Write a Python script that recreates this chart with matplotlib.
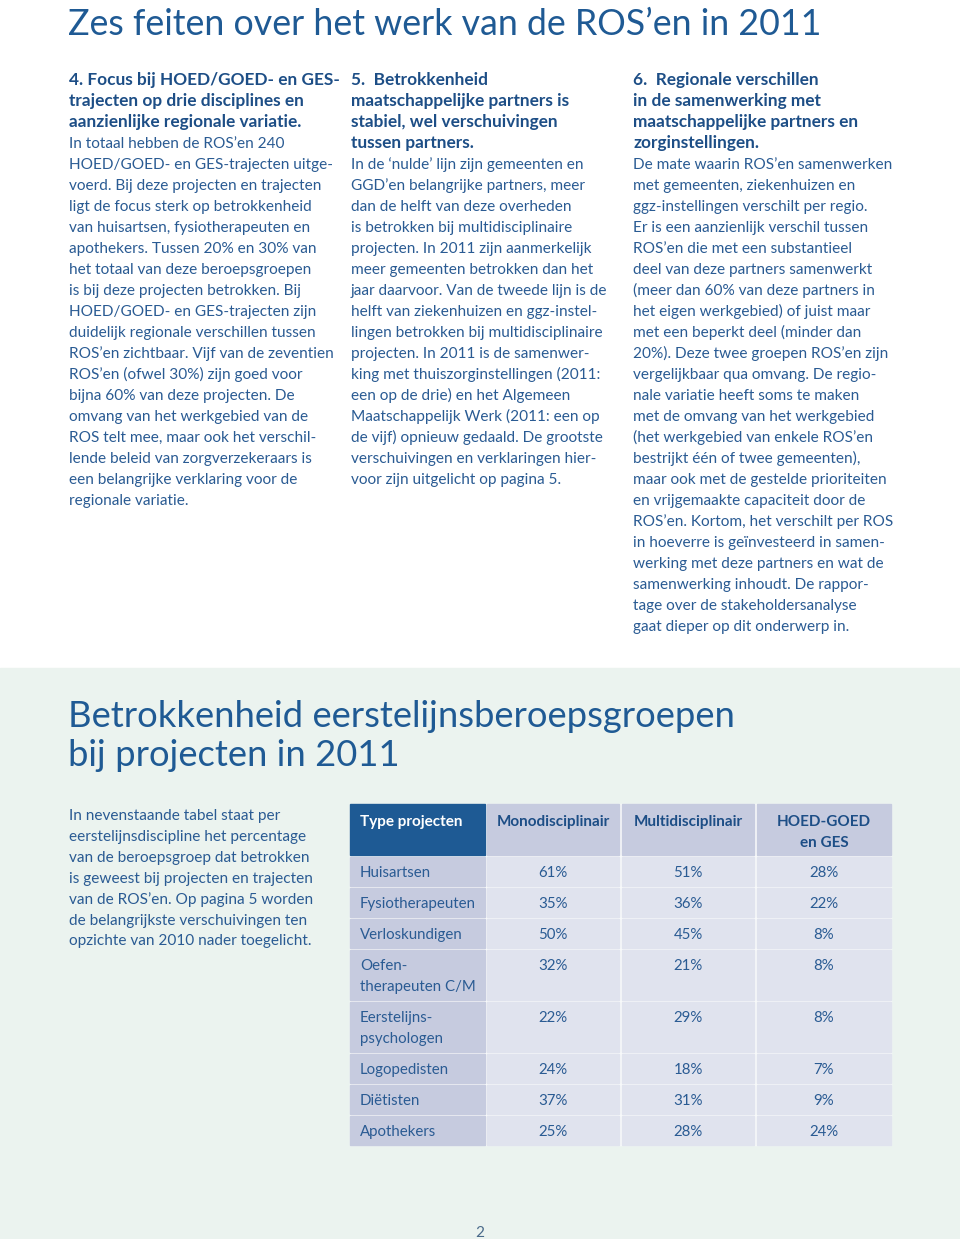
import matplotlib
matplotlib.use('Agg')
import matplotlib.pyplot as plt
from matplotlib.patches import Rectangle

plt.rcParams['font.family'] = ['Lato', 'DejaVu Sans']

page_title = "Zes feiten over het werk van de ROS’en in 2011"

col4_head = ["4. Focus bij HOED/GOED- en GES-",
             "trajecten op drie disciplines en",
             "aanzienlijke regionale variatie."]
col4_body = ["In totaal hebben de ROS’en 240",
             "HOED/GOED- en GES-trajecten uitge-",
             "voerd. Bij deze projecten en trajecten",
             "ligt de focus sterk op betrokkenheid",
             "van huisartsen, fysiotherapeuten en",
             "apothekers. Tussen 20% en 30% van",
             "het totaal van deze beroepsgroepen",
             "is bij deze projecten betrokken. Bij",
             "HOED/GOED- en GES-trajecten zijn",
             "duidelijk regionale verschillen tussen",
             "ROS’en zichtbaar. Vijf van de zeventien",
             "ROS’en (ofwel 30%) zijn goed voor",
             "bijna 60% van deze projecten. De",
             "omvang van het werkgebied van de",
             "ROS telt mee, maar ook het verschil-",
             "lende beleid van zorgverzekeraars is",
             "een belangrijke verklaring voor de",
             "regionale variatie."]

col5_head = ["5.  Betrokkenheid",
             "maatschappelijke partners is",
             "stabiel, wel verschuivingen",
             "tussen partners."]
col5_body = ["In de ‘nulde’ lijn zijn gemeenten en",
             "GGD’en belangrijke partners, meer",
             "dan de helft van deze overheden",
             "is betrokken bij multidisciplinaire",
             "projecten. In 2011 zijn aanmerkelijk",
             "meer gemeenten betrokken dan het",
             "jaar daarvoor. Van de tweede lijn is de",
             "helft van ziekenhuizen en ggz-instel-",
             "lingen betrokken bij multidisciplinaire",
             "projecten. In 2011 is de samenwer-",
             "king met thuiszorginstellingen (2011:",
             "een op de drie) en het Algemeen",
             "Maatschappelijk Werk (2011: een op",
             "de vijf) opnieuw gedaald. De grootste",
             "verschuivingen en verklaringen hier-",
             "voor zijn uitgelicht op pagina 5."]

col6_head = ["6.  Regionale verschillen",
             "in de samenwerking met",
             "maatschappelijke partners en",
             "zorginstellingen."]
col6_body = ["De mate waarin ROS’en samenwerken",
             "met gemeenten, ziekenhuizen en",
             "ggz-instellingen verschilt per regio.",
             "Er is een aanzienlijk verschil tussen",
             "ROS’en die met een substantieel",
             "deel van deze partners samenwerkt",
             "(meer dan 60% van deze partners in",
             "het eigen werkgebied) of juist maar",
             "met een beperkt deel (minder dan",
             "20%). Deze twee groepen ROS’en zijn",
             "vergelijkbaar qua omvang. De regio-",
             "nale variatie heeft soms te maken",
             "met de omvang van het werkgebied",
             "(het werkgebied van enkele ROS’en",
             "bestrijkt één of twee gemeenten),",
             "maar ook met de gestelde prioriteiten",
             "en vrijgemaakte capaciteit door de",
             "ROS’en. Kortom, het verschilt per ROS",
             "in hoeverre is geïnvesteerd in samen-",
             "werking met deze partners en wat de",
             "samenwerking inhoudt. De rappor-",
             "tage over de stakeholdersanalyse",
             "gaat dieper op dit onderwerp in."]

section_title = ["Betrokkenheid eerstelijnsberoepsgroepen",
                 "bij projecten in 2011"]
intro = ["In nevenstaande tabel staat per",
         "eerstelijnsdiscipline het percentage",
         "van de beroepsgroep dat betrokken",
         "is geweest bij projecten en trajecten",
         "van de ROS’en. Op pagina 5 worden",
         "de belangrijkste verschuivingen ten",
         "opzichte van 2010 nader toegelicht."]

table_header = ["Type projecten", "Monodisciplinair", "Multidisciplinair", "HOED-GOED\nen GES"]
disciplines = ["Huisartsen", "Fysiotherapeuten", "Verloskundigen", "Oefen-\ntherapeuten C/M",
               "Eerstelijns-\npsychologen", "Logopedisten", "Diëtisten", "Apothekers"]
mono = [61, 35, 50, 32, 22, 24, 37, 25]
multi = [51, 36, 45, 21, 29, 18, 31, 28]
hoed = [28, 22, 8, 8, 8, 7, 9, 24]
page_no = "2"

TITLE = '#1f5a94'
HEAD = '#1d4e86'
BODY = '#2a5b93'

fig = plt.figure(figsize=(9.6, 12.39), dpi=100)
ax = fig.add_axes([0, 0, 1, 1])
ax.set_xlim(0, 960)
ax.set_ylim(1239, 0)
ax.axis('off')
rend = fig.canvas.get_renderer()


def fit(s, width, **kw):
    # font size that makes s span the given number of pixels
    t = ax.text(0, 0, s, fontsize=10, **kw)
    w = t.get_window_extent(rend).width
    t.remove()
    return 10 * width / w


fs_body = fit("het totaal van deze beroepsgroepen", 243)
fs_head = fit("trajecten op drie disciplines en", 235, weight='bold')
fs_title = fit(page_title, 755)
fs_sect = fit(section_title[0], 670)
fs_tab = fit("Fysiotherapeuten", 116)
fs_tabh = fit("Monodisciplinair", 114, weight='bold')

# lower tinted panel
ax.add_patch(Rectangle((0, 668), 960, 571, color='#ebf3ef', zorder=0))

ax.text(68, 35, page_title, fontsize=fs_title, color=TITLE, va='baseline')


def block(x, y0, head, body, pitch=21):
    y = y0
    for line in head:
        ax.text(x, y, line, fontsize=fs_head, color=HEAD, weight='bold', va='baseline')
        y += pitch
    for line in body:
        ax.text(x, y, line, fontsize=fs_body, color=BODY, va='baseline')
        y += pitch


block(69, 85, col4_head, col4_body)
block(351, 85, col5_head, col5_body)
block(633, 85, col6_head, col6_body)

for i, line in enumerate(section_title):
    ax.text(68, 727 + i * 39, line, fontsize=fs_sect, color=TITLE, va='baseline')

for i, line in enumerate(intro):
    ax.text(69, 820 + i * 20.9, line, fontsize=fs_body, color=BODY, va='baseline')

# table
col_x = [350, 487, 622, 757]
col_w = [135, 132, 132, 134]
gap = 2
top = 804
head_h = 51

n_double = sum(1 for d in disciplines if '\n' in d)
tab_h = head_h + gap + (len(disciplines) - n_double) * (29 + gap) + n_double * (50 + gap) - gap
ax.add_patch(Rectangle((col_x[0], top), col_x[-1] + col_w[-1] - col_x[0], tab_h,
                       color='#f7f9fa', zorder=0.5))

for j, lab in enumerate(table_header):
    fc = '#1e5a94' if j == 0 else '#c6cbdf'
    ax.add_patch(Rectangle((col_x[j], top), col_w[j], head_h, color=fc, zorder=1))
    if j == 0:
        ax.text(col_x[j] + 10, top + 22, lab, fontsize=fs_tabh, color='white', weight='bold',
                va='baseline', zorder=2)
    else:
        for k, part in enumerate(lab.split('\n')):
            ax.text(col_x[j] + col_w[j] / 2, top + 22 + 21 * k, part, fontsize=fs_tabh,
                    color=HEAD, weight='bold', ha='center', va='baseline', zorder=2)

y = top + head_h + gap
for d, m, mu, h in zip(disciplines, mono, multi, hoed):
    nlines = d.count('\n') + 1
    rh = 29 if nlines == 1 else 50
    ax.add_patch(Rectangle((col_x[0], y), col_w[0], rh, color='#c6cbdf', zorder=1))
    for j in range(1, 4):
        ax.add_patch(Rectangle((col_x[j], y), col_w[j], rh, color='#e0e3ee', zorder=1))
    for k, part in enumerate(d.split('\n')):
        ax.text(col_x[0] + 10, y + 20 + 21 * k, part, fontsize=fs_tab, color=BODY,
                va='baseline', zorder=2)
    for j, v in zip(range(1, 4), (m, mu, h)):
        ax.text(col_x[j] + col_w[j] / 2, y + 20, f"{v}%", fontsize=fs_tab, color=BODY,
                ha='center', va='baseline', zorder=2)
    y += rh + gap

ax.text(480, 1237, page_no, fontsize=fs_body, color='#4a6a8a', ha='center', va='baseline')

fig.savefig('out.png', dpi=100)
